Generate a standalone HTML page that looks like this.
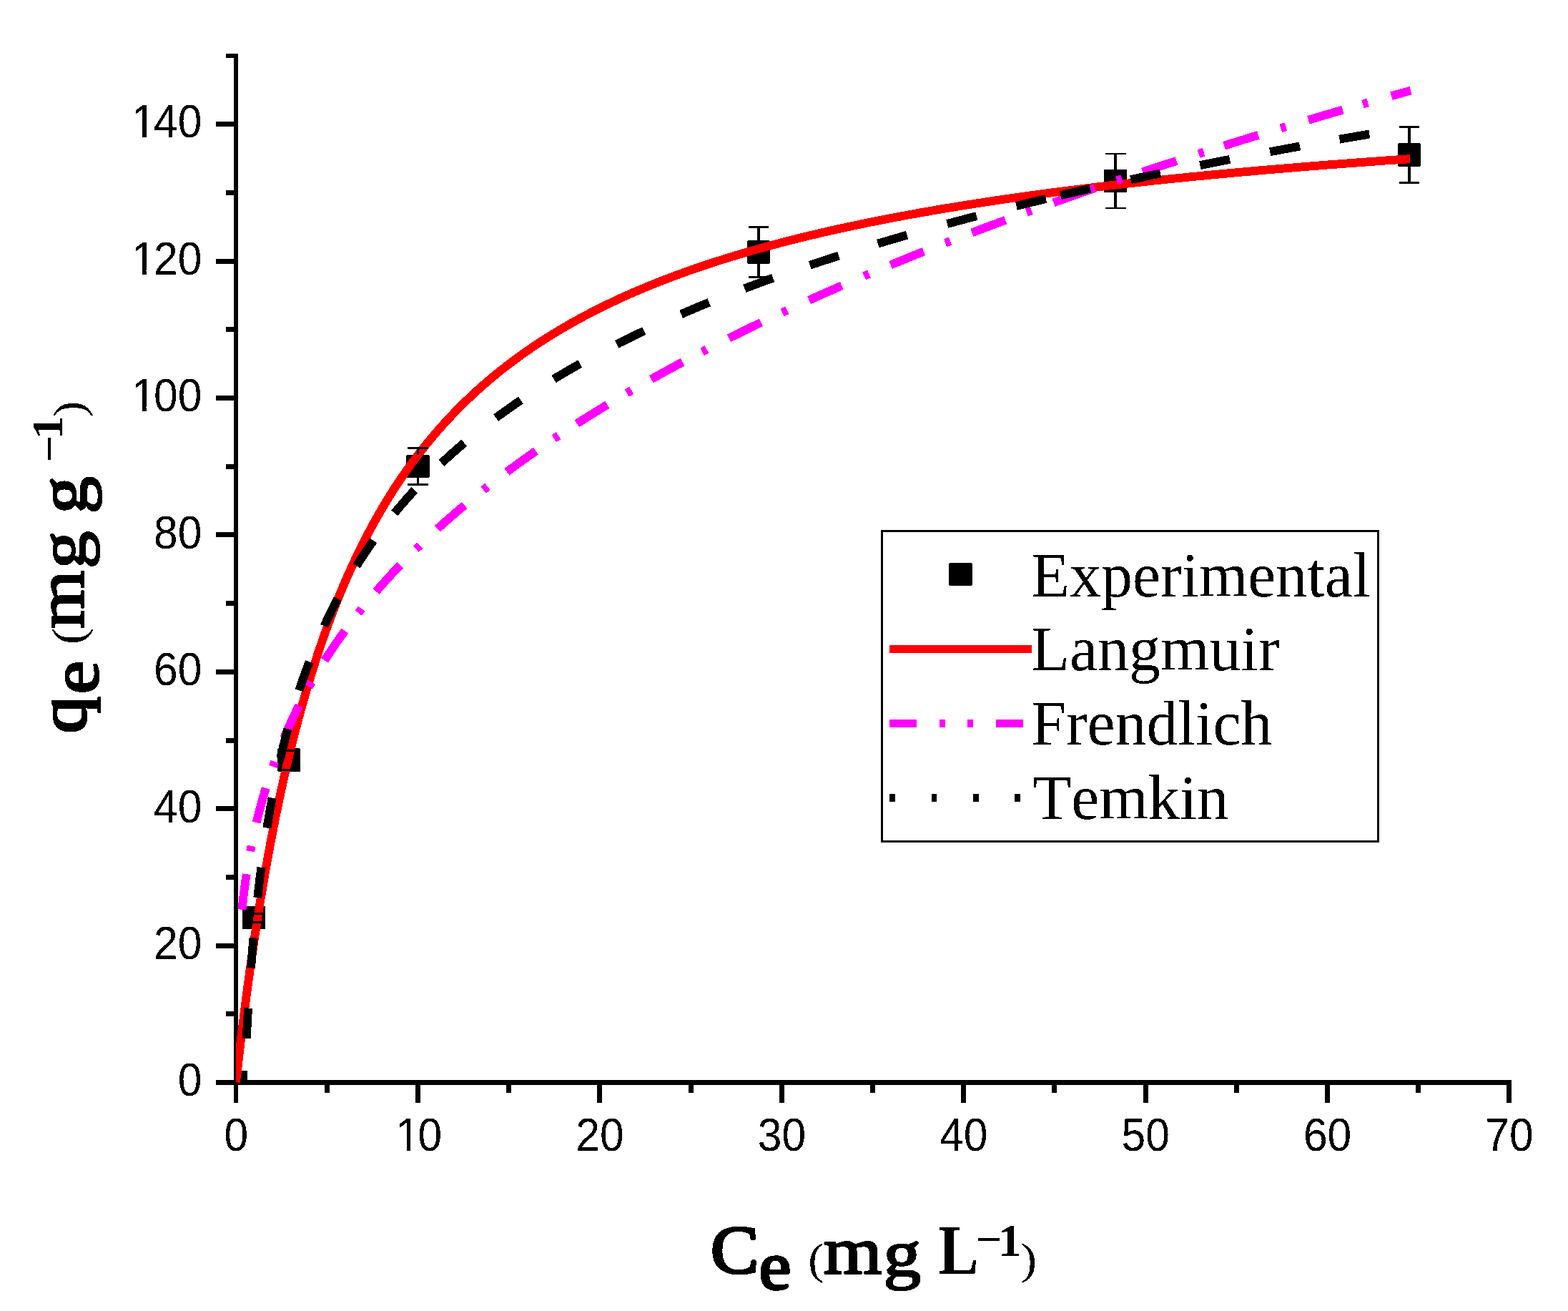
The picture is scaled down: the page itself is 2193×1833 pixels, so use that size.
<!DOCTYPE html>
<html lang="en"><head><meta charset="utf-8"><title>Adsorption isotherm</title>
<style>
html,body{margin:0;padding:0;background:#fff;}
body{width:2193px;height:1833px;}
svg{display:block;}
.tick{font-family:"Liberation Sans",Arial,sans-serif;fill:#000;}
.leg{font-family:"Liberation Serif","Times New Roman",serif;font-size:88px;fill:#000;font-kerning:none;}
.ttl{font-family:"Liberation Serif","Times New Roman",serif;font-weight:bold;fill:#000;}
.par{font-family:"Liberation Serif","Times New Roman",serif;font-weight:normal;fill:#000;}
</style></head><body>
<svg width="2193" height="1833" viewBox="0 0 2193 1833" role="img" aria-label="Adsorption isotherm: qe versus Ce with Langmuir, Frendlich and Temkin fits">
<rect x="0" y="0" width="2193" height="1833" fill="#fff"/>
<defs><filter id="bin" x="-5%" y="-5%" width="110%" height="110%" color-interpolation-filters="sRGB"><feComponentTransfer><feFuncA type="discrete" tableValues="0 1"/></feComponentTransfer></filter></defs>
<defs><clipPath id="plotclip"><rect x="330" y="70" width="1790" height="1444"/></clipPath></defs>
<g id="axes" fill="#000" shape-rendering="crispEdges">
<rect x="327" y="75" width="6" height="1442"/>
<rect x="302" y="1510" width="1812" height="7"/>
<rect x="327" y="1513" width="6" height="29"/>
<rect x="454" y="1513" width="7" height="15"/>
<rect x="581" y="1513" width="7" height="29"/>
<rect x="708" y="1513" width="7" height="15"/>
<rect x="835" y="1513" width="7" height="29"/>
<rect x="963" y="1513" width="7" height="15"/>
<rect x="1090" y="1513" width="7" height="29"/>
<rect x="1217" y="1513" width="7" height="15"/>
<rect x="1344" y="1513" width="7" height="29"/>
<rect x="1471" y="1513" width="7" height="15"/>
<rect x="1599" y="1513" width="7" height="29"/>
<rect x="1726" y="1513" width="7" height="15"/>
<rect x="1853" y="1513" width="7" height="29"/>
<rect x="1980" y="1513" width="7" height="15"/>
<rect x="2107" y="1513" width="7" height="29"/>
<rect x="302" y="1510" width="28" height="7"/>
<rect x="316" y="1414" width="14" height="7"/>
<rect x="302" y="1319" width="28" height="7"/>
<rect x="316" y="1223" width="14" height="7"/>
<rect x="302" y="1127" width="28" height="7"/>
<rect x="316" y="1032" width="14" height="7"/>
<rect x="302" y="936" width="28" height="7"/>
<rect x="316" y="840" width="14" height="7"/>
<rect x="302" y="744" width="28" height="7"/>
<rect x="316" y="649" width="14" height="7"/>
<rect x="302" y="553" width="28" height="7"/>
<rect x="316" y="457" width="14" height="7"/>
<rect x="302" y="362" width="28" height="7"/>
<rect x="316" y="266" width="14" height="7"/>
<rect x="302" y="170" width="28" height="7"/>
<rect x="316" y="75" width="14" height="6"/>
</g>
<g id="data" clip-path="url(#plotclip)" shape-rendering="crispEdges">
<g id="points" fill="#000">
<path d="M313.8,1498.3l1.2,-1.2h30.2l1.2,1.2v30.1l-1.2,1.2h-30.2l-1.2,-1.2z"/>
<path d="M338.7,1268.0l1.2,-1.2h30.2l1.2,1.2v30.1l-1.2,1.2h-30.2l-1.2,-1.2z"/>
<path d="M387.8,1047.6l1.2,-1.2h30.2l1.2,1.2v30.1l-1.2,1.2h-30.2l-1.2,-1.2z"/>
<path d="M568.2,637.0l1.2,-1.2h30.2l1.2,1.2v30.1l-1.2,1.2h-30.2l-1.2,-1.2z"/>
<path d="M1044.7,337.5l1.2,-1.2h30.2l1.2,1.2v30.1l-1.2,1.2h-30.2l-1.2,-1.2z"/>
<path d="M1543.8,237.9l1.2,-1.2h30.2l1.2,1.2v30.1l-1.2,1.2h-30.2l-1.2,-1.2z"/>
<path d="M1954.7,201.6l1.2,-1.2h30.2l1.2,1.2v30.1l-1.2,1.2h-30.2l-1.2,-1.2z"/>
</g>
<path id="langmuir" d="M330.1,1513.3L330.4,1510.3L330.8,1507.3L331.1,1504.4L331.4,1501.4L331.8,1498.4L332.1,1495.4L332.4,1492.5L332.8,1489.5L333.1,1486.5L333.4,1483.5L333.8,1480.5L334.1,1477.6L334.5,1474.6L334.8,1471.6L335.2,1468.6L335.5,1465.7L335.9,1462.7L336.2,1459.7L336.6,1456.7L336.9,1453.8L337.3,1450.8L337.7,1447.8L338.0,1444.8L338.4,1441.9L338.7,1438.9L339.1,1435.9L339.5,1432.9L339.8,1430.0L340.2,1427.0L340.6,1424.0L341.0,1421.0L341.3,1418.1L341.7,1415.1L342.1,1412.1L342.5,1409.2L342.9,1406.2L343.2,1403.2L343.6,1400.2L344.0,1397.3L344.4,1394.3L344.8,1391.3L345.2,1388.4L345.6,1385.4L346.0,1382.4L346.4,1379.4L346.8,1376.5L347.2,1373.5L347.6,1370.5L348.0,1367.6L348.4,1364.6L348.8,1361.6L349.2,1358.7L349.6,1355.7L350.0,1352.7L350.5,1349.8L350.9,1346.8L351.3,1343.8L351.7,1340.9L352.1,1337.9L352.6,1334.9L353.0,1332.0L353.4,1329.0L353.9,1326.0L354.3,1323.1L354.7,1320.1L355.2,1317.1L355.6,1314.2L356.1,1311.2L356.5,1308.3L356.9,1305.3L357.4,1302.3L357.8,1299.4L358.3,1296.4L358.8,1293.4L359.2,1290.5L359.7,1287.5L360.1,1284.6L360.6,1281.6L361.1,1278.6L361.5,1275.7L362.0,1272.7L362.5,1269.8L363.0,1266.8L363.4,1263.8L363.9,1260.9L364.4,1257.9L364.9,1255.0L365.4,1252.0L365.9,1249.1L366.4,1246.1L366.9,1243.1L367.4,1240.2L367.9,1237.2L368.4,1234.3L368.9,1231.3L369.4,1228.4L369.9,1225.4L370.4,1222.5L370.9,1219.5L371.4,1216.6L372.0,1213.6L372.5,1210.7L373.0,1207.7L373.5,1204.8L374.1,1201.8L374.6,1198.9L375.1,1195.9L375.7,1193.0L376.2,1190.0L376.8,1187.1L377.3,1184.1L377.9,1181.2L378.4,1178.3L379.0,1175.3L379.6,1172.4L380.1,1169.4L380.7,1166.5L381.3,1163.5L381.8,1160.6L382.4,1157.7L383.0,1154.7L383.6,1151.8L384.2,1148.8L384.7,1145.9L385.3,1143.0L385.9,1140.0L386.5,1137.1L387.1,1134.2L387.7,1131.2L388.3,1128.3L389.0,1125.4L389.6,1122.4L390.2,1119.5L390.8,1116.6L391.4,1113.6L392.1,1110.7L392.7,1107.8L393.3,1104.8L394.0,1101.9L394.6,1099.0L395.3,1096.1L395.9,1093.1L396.6,1090.2L397.2,1087.3L397.9,1084.4L398.5,1081.4L399.2,1078.5L399.9,1075.6L400.6,1072.7L401.2,1069.8L401.9,1066.8L402.6,1063.9L403.3,1061.0L404.0,1058.1L404.7,1055.2L405.4,1052.3L406.1,1049.4L406.8,1046.5L407.5,1043.5L408.3,1040.6L409.0,1037.7L409.7,1034.8L410.4,1031.9L411.2,1029.0L411.9,1026.1L412.7,1023.2L413.4,1020.3L414.2,1017.4L414.9,1014.5L415.7,1011.6L416.5,1008.7L417.2,1005.8L418.0,1002.9L418.8,1000.0L419.6,997.1L420.4,994.2L421.2,991.4L422.0,988.5L422.8,985.6L423.6,982.7L424.4,979.8L425.2,976.9L426.1,974.1L426.9,971.2L427.7,968.3L428.6,965.4L429.4,962.6L430.3,959.7L431.1,956.8L432.0,953.9L432.9,951.1L433.7,948.2L434.6,945.3L435.5,942.5L436.4,939.6L437.3,936.8L438.2,933.9L439.1,931.0L440.0,928.2L440.9,925.3L441.8,922.5L442.8,919.6L443.7,916.8L444.6,913.9L445.6,911.1L446.5,908.3L447.5,905.4L448.5,902.6L449.4,899.7L450.4,896.9L451.4,894.1L452.4,891.3L453.4,888.4L454.4,885.6L455.4,882.8L456.4,880.0L457.4,877.1L458.4,874.3L459.5,871.5L460.5,868.7L461.6,865.9L462.6,863.1L463.7,860.3L464.8,857.5L465.8,854.7L466.9,851.9L468.0,849.1L469.1,846.3L470.2,843.5L471.3,840.8L472.4,838.0L473.6,835.2L474.7,832.4L475.8,829.7L477.0,826.9L478.1,824.1L479.3,821.4L480.5,818.6L481.6,815.8L482.8,813.1L484.0,810.3L485.2,807.6L486.4,804.9L487.6,802.1L488.9,799.4L490.1,796.7L491.3,793.9L492.6,791.2L493.8,788.5L495.1,785.8L496.4,783.0L497.7,780.3L499.0,777.6L500.3,774.9L501.6,772.2L502.9,769.5L504.2,766.9L505.5,764.2L506.9,761.5L508.2,758.8L509.6,756.1L510.9,753.5L512.3,750.8L513.7,748.2L515.1,745.5L516.5,742.9L517.9,740.2L519.3,737.6L520.8,734.9L522.2,732.3L523.6,729.7L525.1,727.1L526.6,724.5L528.0,721.9L529.5,719.3L531.0,716.7L532.5,714.1L534.0,711.5L535.6,708.9L537.1,706.3L538.6,703.8L540.2,701.2L541.8,698.6L543.3,696.1L544.9,693.5L546.5,691.0L548.1,688.5L549.7,685.9L551.3,683.4L553.0,680.9L554.6,678.4L556.3,675.9L557.9,673.4L559.6,670.9L561.3,668.4L563.0,666.0L564.7,663.5L566.4,661.0L568.1,658.6L569.8,656.1L571.6,653.7L573.3,651.3L575.1,648.8L576.8,646.4L578.6,644.0L580.4,641.6L582.2,639.2L584.0,636.8L585.8,634.4L587.7,632.1L589.5,629.7L591.4,627.4L593.2,625.0L595.1,622.7L597.0,620.3L598.9,618.0L600.8,615.7L602.7,613.4L604.6,611.1L606.6,608.8L608.5,606.5L610.5,604.3L612.4,602.0L614.4,599.7L616.4,597.5L618.4,595.3L620.4,593.0L622.4,590.8L624.4,588.6L626.5,586.4L628.5,584.2L630.6,582.0L632.6,579.9L634.7,577.7L636.8,575.5L638.9,573.4L641.0,571.3L643.1,569.1L645.2,567.0L647.3,564.9L649.5,562.8L651.6,560.7L653.8,558.7L656.0,556.6L658.1,554.5L660.3,552.5L662.5,550.4L664.7,548.4L666.9,546.4L669.2,544.4L671.4,542.4L673.6,540.4L675.9,538.4L678.1,536.5L680.4,534.5L682.7,532.6L685.0,530.6L687.3,528.7L689.6,526.8L691.9,524.9L694.2,523.0L696.5,521.1L698.9,519.2L701.2,517.3L703.6,515.5L705.9,513.6L708.3,511.8L710.7,510.0L713.1,508.2L715.4,506.4L717.8,504.6L720.2,502.8L722.7,501.0L725.1,499.2L727.5,497.5L730.0,495.7L732.4,494.0L734.8,492.3L737.3,490.6L739.8,488.9L742.2,487.2L744.7,485.5L747.2,483.8L749.7,482.1L752.2,480.5L754.7,478.8L757.2,477.2L759.7,475.6L762.3,474.0L764.8,472.4L767.3,470.8L769.9,469.2L772.4,467.6L775.0,466.0L777.5,464.5L780.1,462.9L782.7,461.4L785.2,459.9L787.8,458.4L790.4,456.9L793.0,455.4L795.6,453.9L798.2,452.4L800.8,450.9L803.5,449.5L806.1,448.0L808.7,446.6L811.3,445.1L814.0,443.7L816.6,442.3L819.3,440.9L821.9,439.5L824.6,438.1L827.2,436.7L829.9,435.4L832.6,434.0L835.2,432.6L837.9,431.3L840.6,430.0L843.3,428.6L846.0,427.3L848.7,426.0L851.4,424.7L854.1,423.4L856.8,422.1L859.5,420.9L862.2,419.6L864.9,418.3L867.6,417.1L870.4,415.8L873.1,414.6L875.8,413.4L878.6,412.2L881.3,410.9L884.1,409.7L886.8,408.5L889.6,407.4L892.3,406.2L895.1,405.0L897.8,403.8L900.6,402.7L903.4,401.5L906.1,400.4L908.9,399.3L911.7,398.1L914.5,397.0L917.2,395.9L920.0,394.8L922.8,393.7L925.6,392.6L928.4,391.5L931.2,390.4L934.0,389.4L936.8,388.3L939.6,387.2L942.4,386.2L945.2,385.2L948.0,384.1L950.8,383.1L953.6,382.1L956.5,381.0L959.3,380.0L962.1,379.0L964.9,378.0L967.8,377.0L970.6,376.1L973.4,375.1L976.3,374.1L979.1,373.1L981.9,372.2L984.8,371.2L987.6,370.3L990.5,369.3L993.3,368.4L996.2,367.5L999.0,366.5L1001.9,365.6L1004.7,364.7L1007.6,363.8L1010.4,362.9L1013.3,362.0L1016.1,361.1L1019.0,360.2L1021.9,359.3L1024.7,358.5L1027.6,357.6L1030.5,356.7L1033.3,355.9L1036.2,355.0L1039.1,354.2L1042.0,353.3L1044.8,352.5L1047.7,351.7L1050.6,350.8L1053.5,350.0L1056.4,349.2L1059.2,348.4L1062.1,347.6L1065.0,346.8L1067.9,346.0L1070.8,345.2L1073.7,344.4L1076.6,343.6L1079.5,342.8L1082.4,342.0L1085.3,341.3L1088.2,340.5L1091.1,339.7L1094.0,339.0L1096.9,338.2L1099.8,337.5L1102.7,336.7L1105.6,336.0L1108.5,335.3L1111.4,334.5L1114.3,333.8L1117.2,333.1L1120.1,332.4L1123.0,331.7L1125.9,331.0L1128.8,330.2L1131.7,329.5L1134.7,328.8L1137.6,328.2L1140.5,327.5L1143.4,326.8L1146.3,326.1L1149.2,325.4L1152.2,324.7L1155.1,324.1L1158.0,323.4L1160.9,322.7L1163.9,322.1L1166.8,321.4L1169.7,320.8L1172.6,320.1L1175.6,319.5L1178.5,318.9L1181.4,318.2L1184.3,317.6L1187.3,316.9L1190.2,316.3L1193.1,315.7L1196.1,315.1L1199.0,314.5L1201.9,313.9L1204.9,313.2L1207.8,312.6L1210.7,312.0L1213.7,311.4L1216.6,310.8L1219.5,310.2L1222.5,309.7L1225.4,309.1L1228.4,308.5L1231.3,307.9L1234.2,307.3L1237.2,306.8L1240.1,306.2L1243.1,305.6L1246.0,305.0L1248.9,304.5L1251.9,303.9L1254.8,303.4L1257.8,302.8L1260.7,302.3L1263.7,301.7L1266.6,301.2L1269.6,300.6L1272.5,300.1L1275.5,299.6L1278.4,299.0L1281.4,298.5L1284.3,298.0L1287.3,297.4L1290.2,296.9L1293.2,296.4L1296.1,295.9L1299.1,295.4L1302.0,294.9L1305.0,294.3L1307.9,293.8L1310.9,293.3L1313.8,292.8L1316.8,292.3L1319.7,291.8L1322.7,291.3L1325.7,290.8L1328.6,290.4L1331.6,289.9L1334.5,289.4L1337.5,288.9L1340.4,288.4L1343.4,287.9L1346.4,287.5L1349.3,287.0L1352.3,286.5L1355.2,286.1L1358.2,285.6L1361.2,285.1L1364.1,284.7L1367.1,284.2L1370.0,283.8L1373.0,283.3L1376.0,282.8L1378.9,282.4L1381.9,281.9L1384.8,281.5L1387.8,281.1L1390.8,280.6L1393.7,280.2L1396.7,279.7L1399.7,279.3L1402.6,278.9L1405.6,278.4L1408.6,278.0L1411.5,277.6L1414.5,277.2L1417.5,276.7L1420.4,276.3L1423.4,275.9L1426.4,275.5L1429.3,275.1L1432.3,274.6L1435.3,274.2L1438.2,273.8L1441.2,273.4L1444.2,273.0L1447.1,272.6L1450.1,272.2L1453.1,271.8L1456.0,271.4L1459.0,271.0L1462.0,270.6L1465.0,270.2L1467.9,269.8L1470.9,269.4L1473.9,269.1L1476.8,268.7L1479.8,268.3L1482.8,267.9L1485.8,267.5L1488.7,267.1L1491.7,266.8L1494.7,266.4L1497.6,266.0L1500.6,265.6L1503.6,265.3L1506.6,264.9L1509.5,264.5L1512.5,264.2L1515.5,263.8L1518.5,263.4L1521.4,263.1L1524.4,262.7L1527.4,262.4L1530.4,262.0L1533.3,261.6L1536.3,261.3L1539.3,260.9L1542.3,260.6L1545.2,260.2L1548.2,259.9L1551.2,259.5L1554.2,259.2L1557.1,258.9L1560.1,258.5L1563.1,258.2L1566.1,257.8L1569.1,257.5L1572.0,257.2L1575.0,256.8L1578.0,256.5L1581.0,256.2L1583.9,255.8L1586.9,255.5L1589.9,255.2L1592.9,254.9L1595.9,254.5L1598.8,254.2L1601.8,253.9L1604.8,253.6L1607.8,253.2L1610.8,252.9L1613.7,252.6L1616.7,252.3L1619.7,252.0L1622.7,251.7L1625.7,251.4L1628.6,251.0L1631.6,250.7L1634.6,250.4L1637.6,250.1L1640.6,249.8L1643.5,249.5L1646.5,249.2L1649.5,248.9L1652.5,248.6L1655.5,248.3L1658.4,248.0L1661.4,247.7L1664.4,247.4L1667.4,247.1L1670.4,246.8L1673.4,246.5L1676.3,246.2L1679.3,245.9L1682.3,245.7L1685.3,245.4L1688.3,245.1L1691.3,244.8L1694.2,244.5L1697.2,244.2L1700.2,243.9L1703.2,243.7L1706.2,243.4L1709.2,243.1L1712.1,242.8L1715.1,242.6L1718.1,242.3L1721.1,242.0L1724.1,241.7L1727.1,241.5L1730.0,241.2L1733.0,240.9L1736.0,240.6L1739.0,240.4L1742.0,240.1L1745.0,239.8L1747.9,239.6L1750.9,239.3L1753.9,239.0L1756.9,238.8L1759.9,238.5L1762.9,238.3L1765.9,238.0L1768.8,237.7L1771.8,237.5L1774.8,237.2L1777.8,237.0L1780.8,236.7L1783.8,236.5L1786.8,236.2L1789.7,236.0L1792.7,235.7L1795.7,235.5L1798.7,235.2L1801.7,235.0L1804.7,234.7L1807.7,234.5L1810.6,234.2L1813.6,234.0L1816.6,233.7L1819.6,233.5L1822.6,233.2L1825.6,233.0L1828.6,232.8L1831.5,232.5L1834.5,232.3L1837.5,232.0L1840.5,231.8L1843.5,231.6L1846.5,231.3L1849.5,231.1L1852.5,230.9L1855.4,230.6L1858.4,230.4L1861.4,230.2L1864.4,229.9L1867.4,229.7L1870.4,229.5L1873.4,229.3L1876.4,229.0L1879.3,228.8L1882.3,228.6L1885.3,228.4L1888.3,228.1L1891.3,227.9L1894.3,227.7L1897.3,227.5L1900.3,227.2L1903.3,227.0L1906.2,226.8L1909.2,226.6L1912.2,226.4L1915.2,226.1L1918.2,225.9L1921.2,225.7L1924.2,225.5L1927.2,225.3L1930.1,225.1L1933.1,224.9L1936.1,224.6L1939.1,224.4L1942.1,224.2L1945.1,224.0L1948.1,223.8L1951.1,223.6L1954.1,223.4L1957.1,223.2L1960.0,223.0L1963.0,222.8L1966.0,222.6L1969.0,222.4L1972.0,222.2" fill="none" stroke="#ff0000" stroke-width="11.9" stroke-linejoin="round"/>
<g id="errbars" fill="#000">
<rect x="340.6" y="1275.6" width="28.8" height="2.9"/>
<rect x="340.6" y="1287.6" width="28.8" height="2.9"/>
<rect x="389.7" y="1047.7" width="28.8" height="2.9"/>
<rect x="389.7" y="1074.7" width="28.8" height="2.9"/>
<rect x="582.7" y="626.5" width="3.6" height="9.5"/>
<rect x="582.7" y="668.0" width="3.6" height="9.5"/>
<rect x="570.1" y="625.1" width="28.8" height="2.9"/>
<rect x="570.1" y="676.1" width="28.8" height="2.9"/>
<rect x="1059.2" y="317.5" width="3.6" height="19.0"/>
<rect x="1059.2" y="368.5" width="3.6" height="19.0"/>
<rect x="1046.6" y="316.1" width="28.8" height="2.9"/>
<rect x="1046.6" y="386.1" width="28.8" height="2.9"/>
<rect x="1558.3" y="214.9" width="3.6" height="22.0"/>
<rect x="1558.3" y="268.9" width="3.6" height="22.0"/>
<rect x="1545.7" y="213.5" width="28.8" height="2.9"/>
<rect x="1545.7" y="289.5" width="28.8" height="2.9"/>
<rect x="1969.2" y="177.6" width="3.6" height="23.0"/>
<rect x="1969.2" y="232.6" width="3.6" height="23.0"/>
<rect x="1956.6" y="176.2" width="28.8" height="2.9"/>
<rect x="1956.6" y="254.2" width="28.8" height="2.9"/>
</g>
<path id="freundlich" d="M338.4,1271.8L338.8,1268.0L339.3,1264.2L339.7,1260.4L340.1,1256.5L340.6,1252.7L341.1,1248.9L341.5,1245.1L342.0,1241.3L342.6,1237.5L343.1,1233.7L343.6,1229.8L344.2,1226.0L344.8,1222.2M350.2,1190.2L350.9,1186.5L351.6,1182.8M358.7,1150.1L359.6,1146.4L360.5,1142.7L361.5,1138.9L362.4,1135.2L363.4,1131.5L364.4,1127.8L365.4,1124.0L366.4,1120.3L367.5,1116.6L368.5,1112.9L369.6,1109.2L370.7,1105.6L371.8,1101.9M381.7,1071.9L383.0,1068.4L384.2,1064.9M397.3,1031.7L398.8,1028.2L400.3,1024.6L401.8,1021.1L403.4,1017.6L405.0,1014.1L406.6,1010.6L408.2,1007.1L409.8,1003.6L411.5,1000.2L413.1,996.7L414.8,993.2L416.5,989.8L418.3,986.4M432.1,960.3L433.9,957.0L435.8,953.8M454.1,923.3L456.2,920.1L458.3,916.9L460.4,913.7L462.5,910.4L464.7,907.2L466.8,904.1L469.0,900.9L471.2,897.7L473.4,894.6L475.6,891.4L477.8,888.3L480.1,885.2L482.3,882.0M501.3,857.0L503.6,854.1L505.9,851.2M526.0,827.1L528.5,824.2L531.0,821.3L533.6,818.4L536.1,815.6L538.7,812.7L541.3,809.8L543.8,807.0L546.4,804.2L549.1,801.3L551.7,798.5L554.3,795.7L557.0,792.9L559.6,790.2M581.8,767.7L584.5,765.1L587.2,762.5M612.0,739.3L614.8,736.7L617.7,734.2L620.5,731.6L623.4,729.0L626.3,726.5L629.2,724.0L632.1,721.4L635.0,718.9L637.9,716.4L640.9,713.9L643.8,711.4L646.7,709.0L649.7,706.5M676.1,685.0L679.0,682.7L681.9,680.4M708.9,659.8L712.0,657.5L715.1,655.2L718.2,653.0L721.3,650.7L724.4,648.4L727.5,646.2L730.6,643.9L733.7,641.7L736.9,639.5L740.0,637.2L743.2,635.0L746.3,632.8L749.5,630.6M774.9,613.2L778.0,611.2L781.1,609.1M806.9,592.3L810.2,590.2L813.4,588.2L816.7,586.1L819.9,584.1L823.2,582.0L826.5,580.0L829.7,578.0L833.0,575.9L836.3,573.9L839.6,571.9L842.8,569.9L846.1,567.9L849.4,565.9M876.8,549.7L880.0,547.8L883.2,545.9M910.8,530.3L914.1,528.4L917.5,526.5L920.9,524.7L924.2,522.8L927.6,520.9L931.0,519.1L934.3,517.2L937.7,515.4L941.1,513.6L944.5,511.7L947.9,509.9L951.3,508.1L954.6,506.3M981.9,492.0L985.2,490.3L988.5,488.5M1019.4,472.9L1022.8,471.2L1026.3,469.5L1029.7,467.8L1033.2,466.1L1036.6,464.4L1040.1,462.7L1043.5,461.0L1047.0,459.3L1050.4,457.6L1053.9,455.9L1057.4,454.3L1060.8,452.6L1064.3,450.9M1094.1,436.9L1097.5,435.3L1100.9,433.7M1131.6,419.7L1135.1,418.1L1138.6,416.5L1142.2,414.9L1145.7,413.4L1149.2,411.8L1152.7,410.2L1156.2,408.7L1159.7,407.1L1163.2,405.6L1166.8,404.0L1170.3,402.5L1173.8,400.9L1177.3,399.4M1208.6,386.0L1212.0,384.5L1215.5,383.1M1245.6,370.5L1249.2,369.0L1252.7,367.5L1256.3,366.1L1259.8,364.6L1263.4,363.2L1267.0,361.7L1270.5,360.3L1274.1,358.8L1277.7,357.4L1281.2,356.0L1284.8,354.5L1288.4,353.1L1291.9,351.7M1322.1,339.7L1325.6,338.4L1329.1,337.0M1359.4,325.3L1363.0,324.0L1366.6,322.6L1370.2,321.2L1373.8,319.9L1377.4,318.5L1381.0,317.2L1384.6,315.8L1388.2,314.4L1391.8,313.1L1395.4,311.8L1399.0,310.4L1402.6,309.1L1406.2,307.7M1435.8,296.9L1439.3,295.6L1442.8,294.3M1473.5,283.3L1477.1,282.0L1480.7,280.7L1484.3,279.4L1488.0,278.2L1491.6,276.9L1495.2,275.6L1498.8,274.3L1502.4,273.1L1506.0,271.8L1509.7,270.5L1513.3,269.3L1516.9,268.0L1520.5,266.8L1524.2,265.5L1527.8,264.3L1531.4,263.0M1561.9,252.6L1565.5,251.4L1569.1,250.2M1598.1,240.5L1601.8,239.3L1605.4,238.0L1609.1,236.8L1612.7,235.6L1616.4,234.4L1620.0,233.2L1623.7,232.0L1627.3,230.8L1631.0,229.6L1634.6,228.4L1638.3,227.3L1642.0,226.1L1645.6,224.9M1676.5,215.0L1680.0,213.8L1683.6,212.7M1712.1,203.7L1715.8,202.5L1719.5,201.4L1723.1,200.2L1726.8,199.1L1730.5,198.0L1734.2,196.8L1737.8,195.7L1741.5,194.5L1745.2,193.4L1748.9,192.3L1752.5,191.1L1756.2,190.0L1759.9,188.9M1791.3,179.3L1794.9,178.2L1798.5,177.2M1829.9,167.8L1833.6,166.7L1837.3,165.6L1841.0,164.5L1844.7,163.4L1848.4,162.3L1852.1,161.2L1855.7,160.1L1859.4,159.1L1863.1,158.0L1866.8,156.9L1870.5,155.8L1874.2,154.8L1877.9,153.7M1906.0,145.6L1909.6,144.5L1913.2,143.5M1946.0,134.2L1949.4,133.2L1952.8,132.3L1956.1,131.3L1959.5,130.4L1962.9,129.4L1966.3,128.5L1969.6,127.5L1973.0,126.6" fill="none" stroke="#ff00ff" stroke-width="11.9" stroke-linejoin="round"/>
<path id="temkin" d="M344.6,1452.0L344.8,1448.1L345.0,1444.3L345.2,1440.4L345.5,1436.5L345.7,1432.7L345.9,1428.8L346.1,1425.0L346.4,1421.1L346.6,1417.3L346.8,1413.4L347.1,1409.5M351.0,1353.4L351.3,1349.6L351.6,1345.7L351.9,1341.9L352.2,1338.0L352.6,1334.2L352.9,1330.3L353.2,1326.5L353.5,1322.6L353.9,1318.8L354.2,1314.9L354.6,1311.1M360.2,1255.0L360.7,1251.1L361.1,1247.3L361.6,1243.4L362.0,1239.6L362.5,1235.8L362.9,1231.9L363.4,1228.1L363.9,1224.3L364.4,1220.4L364.9,1216.6L365.4,1212.8M373.4,1157.5L374.0,1153.7L374.6,1149.9L375.3,1146.1L375.9,1142.3L376.6,1138.5L377.2,1134.6L377.9,1130.8L378.6,1127.0L379.3,1123.2L379.9,1119.4L380.7,1115.6M392.2,1060.4L393.0,1056.7L393.9,1052.9L394.8,1049.1L395.7,1045.4L396.6,1041.6L397.6,1037.9L398.5,1034.1L399.5,1030.4L400.4,1026.6L401.4,1022.9L402.4,1019.2M418.4,965.4L419.6,961.7L420.9,958.0L422.1,954.4L423.3,950.7L424.6,947.1L425.9,943.4L427.2,939.8L428.5,936.2L429.9,932.5L431.2,928.9L432.6,925.3M453.4,875.4L455.1,871.9L456.7,868.4L458.3,864.9L460.0,861.4L461.7,857.9L463.4,854.4L465.1,851.0L466.9,847.5L468.6,844.1L470.4,840.7L472.2,837.2M498.7,791.2L500.7,788.0L502.8,784.7L504.9,781.5L507.0,778.2L509.1,775.0L511.3,771.8L513.4,768.6L515.6,765.4L517.8,762.2L520.0,759.1L522.3,755.9M551.8,717.4L554.3,714.4L556.7,711.5L559.2,708.5L561.8,705.6L564.3,702.7L566.8,699.7L569.4,696.8L572.0,694.0L574.5,691.1L577.1,688.2L579.8,685.4M617.5,647.5L620.3,644.9L623.1,642.3L626.0,639.7L628.8,637.1L631.7,634.5L634.6,631.9L637.5,629.4L640.4,626.8L643.3,624.3L646.3,621.8L649.2,619.3M693.7,584.1L696.8,581.8L700.0,579.5L703.1,577.3L706.2,575.0L709.4,572.8L712.5,570.5L715.7,568.3L718.9,566.1L722.0,563.9L725.2,561.7L728.4,559.6M774.6,530.0L777.9,528.0L781.2,526.0L784.5,524.1L787.8,522.1L791.2,520.1L794.5,518.2L797.9,516.3L801.2,514.3L804.6,512.4L807.9,510.5L811.3,508.6M862.6,481.4L866.0,479.6L869.5,477.9L872.9,476.2L876.4,474.5L879.9,472.8L883.3,471.1L886.8,469.4L890.3,467.7L893.8,466.0L897.3,464.4L900.8,462.7M952.6,439.3L956.1,437.8L959.6,436.2L963.2,434.7L966.8,433.2L970.3,431.7L973.9,430.2L977.4,428.7L981.0,427.3L984.6,425.8L988.2,424.3L991.7,422.9M1041.3,403.4L1044.9,402.0L1048.5,400.7L1052.1,399.3L1055.8,398.0L1059.4,396.6L1063.0,395.3L1066.6,394.0L1070.3,392.6L1073.9,391.3L1077.5,390.0L1081.2,388.7M1132.7,370.8L1136.3,369.6L1140.0,368.4L1143.7,367.2L1147.3,365.9L1151.0,364.7L1154.7,363.5L1158.4,362.3L1162.0,361.2L1165.7,360.0L1169.4,358.8L1173.1,357.6M1227.8,340.6L1231.5,339.5L1235.2,338.4L1238.9,337.3L1242.6,336.2L1246.3,335.1L1250.1,334.1L1253.8,333.0L1257.5,331.9L1261.2,330.8L1264.9,329.7L1268.6,328.7M1324.8,313.0L1328.5,312.0L1332.2,311.0L1336.0,310.0L1339.7,309.0L1343.4,308.0L1347.2,307.0L1350.9,306.0L1354.6,305.1L1358.4,304.1L1362.1,303.1L1365.9,302.1M1421.4,288.0L1425.2,287.1L1428.9,286.2L1432.7,285.3L1436.4,284.4L1440.2,283.4L1443.9,282.5L1447.7,281.6L1451.4,280.7L1455.2,279.8L1459.0,278.9L1462.7,278.0M1483.4,273.1L1487.2,272.3L1491.0,271.4L1494.7,270.5L1498.5,269.7L1502.3,268.8L1506.0,267.9L1509.8,267.1L1513.6,266.2L1517.3,265.3L1521.1,264.5L1524.9,263.6M1581.4,251.2L1585.2,250.4L1589.0,249.6L1592.8,248.8L1596.5,247.9L1600.3,247.1L1604.1,246.3L1607.9,245.5L1611.7,244.8L1615.4,244.0L1619.2,243.2L1623.0,242.4M1678.4,231.1L1682.2,230.3L1686.0,229.6L1689.8,228.8L1693.6,228.1L1697.4,227.3L1701.1,226.6L1704.9,225.8L1708.7,225.1L1712.5,224.3L1716.3,223.6L1720.1,222.9M1776.2,212.2L1780.0,211.5L1783.8,210.8L1787.6,210.1L1791.4,209.4L1795.1,208.7L1799.0,208.0L1802.8,207.3L1806.6,206.6L1810.4,205.9L1814.2,205.2L1818.0,204.5M1873.4,194.7L1877.2,194.0L1881.0,193.4L1884.8,192.7L1888.6,192.0L1892.4,191.4L1896.3,190.7L1900.1,190.1L1903.9,189.4L1907.7,188.8L1911.5,188.1L1915.3,187.5" fill="none" stroke="#000" stroke-width="11.9" stroke-linejoin="round"/>
</g>
<defs><clipPath id="one"><rect x="-2" y="-70" width="36.65" height="64.6"/><rect x="17.66" y="-6" width="5.65" height="8"/><rect x="34.65" y="-70" width="120" height="80"/></clipPath></defs>
<g id="xlabels" class="tick" font-size="60.5" filter="url(#bin)">
<text transform="translate(313.38,1609.30) scale(1,1.07)" x="0.00" y="0">0</text>
<text transform="translate(550.95,1609.30) scale(1,1.07)" clip-path="url(#one)" x="2.60 33.65" y="0">10</text>
<text transform="translate(805.35,1609.30) scale(1,1.07)" x="0.00 33.65" y="0">20</text>
<text transform="translate(1059.75,1609.30) scale(1,1.07)" x="0.00 33.65" y="0">30</text>
<text transform="translate(1314.15,1609.30) scale(1,1.07)" x="0.00 33.65" y="0">40</text>
<text transform="translate(1568.55,1609.30) scale(1,1.07)" x="0.00 33.65" y="0">50</text>
<text transform="translate(1822.95,1609.30) scale(1,1.07)" x="0.00 33.65" y="0">60</text>
<text transform="translate(2077.35,1609.30) scale(1,1.07)" x="0.00 33.65" y="0">70</text>
</g>
<g id="ylabels" class="tick" font-size="60.5" filter="url(#bin)">
<text transform="translate(248.65,1532.30) scale(1,1.07)" x="0.00" y="0">0</text>
<text transform="translate(215.01,1340.90) scale(1,1.07)" x="0.00 33.65" y="0">20</text>
<text transform="translate(215.01,1149.50) scale(1,1.07)" x="0.00 33.65" y="0">40</text>
<text transform="translate(215.01,958.10) scale(1,1.07)" x="0.00 33.65" y="0">60</text>
<text transform="translate(215.01,766.70) scale(1,1.07)" x="0.00 33.65" y="0">80</text>
<text transform="translate(181.36,575.30) scale(1,1.07)" clip-path="url(#one)" x="2.60 33.65 67.29" y="0">100</text>
<text transform="translate(181.36,383.90) scale(1,1.07)" clip-path="url(#one)" x="2.60 33.65 67.29" y="0">120</text>
<text transform="translate(181.36,192.50) scale(1,1.07)" clip-path="url(#one)" x="2.60 33.65 67.29" y="0">140</text>
</g>
<g id="legend">
<rect x="1232" y="741" width="697" height="437" fill="#000" shape-rendering="crispEdges"/>
<rect x="1235" y="744" width="691" height="431" fill="#fff" shape-rendering="crispEdges"/>
<path d="M1327,788.5l1.5,-1.5h29.8l1.5,1.5v28.8l-1.5,1.5h-29.8l-1.5,-1.5z" fill="#000" shape-rendering="crispEdges"/>
<rect x="1243.8" y="901.5" width="199.1" height="11.6" fill="#ff0000" shape-rendering="crispEdges"/>
<rect x="1243.8" y="1005.8" width="38.4" height="11.3" fill="#ff00ff" shape-rendering="crispEdges"/>
<rect x="1314" y="1005.8" width="8.0" height="11.3" fill="#ff00ff" shape-rendering="crispEdges"/>
<rect x="1353" y="1005.8" width="8.2" height="11.3" fill="#ff00ff" shape-rendering="crispEdges"/>
<rect x="1392.9" y="1005.8" width="38.4" height="11.3" fill="#ff00ff" shape-rendering="crispEdges"/>
<rect x="1243.8" y="1110" width="8.5" height="11" fill="#000" shape-rendering="crispEdges"/>
<rect x="1302.7" y="1110" width="7.7" height="11" fill="#000" shape-rendering="crispEdges"/>
<rect x="1360.8" y="1110" width="8.1" height="11" fill="#000" shape-rendering="crispEdges"/>
<rect x="1419.3" y="1110" width="8.1" height="11" fill="#000" shape-rendering="crispEdges"/>
<g id="legendtext" filter="url(#bin)">
<text class="leg" x="1442.3" y="833.5">Experimental</text>
<text class="leg" x="1442.3" y="936.7">Langmuir</text>
<text class="leg" x="1442.3" y="1040.6">Frendlich</text>
<text class="leg" x="1444.6" y="1145.3">Temkin</text>
</g>
</g>
<text id="xtitle" class="ttl" filter="url(#bin)"><tspan x="994.00 1061.44" y="1780.44 1801.79" font-size="94.25" font-weight="normal" stroke="#000" stroke-width="3.6" stroke-linejoin="round" textLength="112.05" lengthAdjust="spacingAndGlyphs">Ce</tspan><tspan font-size="60"> </tspan><tspan x="1130.29" y="1780.89" font-size="60.66" font-weight="normal" textLength="22.04" lengthAdjust="spacingAndGlyphs">(</tspan><tspan x="1151.86 1235.53" y="1779.60 1783.56" font-size="92.10" font-weight="normal" stroke="#000" stroke-width="2.6" stroke-linejoin="round" textLength="134.26" lengthAdjust="spacingAndGlyphs">mg</tspan><tspan font-size="60"> </tspan><tspan x="1312.36" y="1781.10" font-size="99.73" font-weight="bold" textLength="56.29" lengthAdjust="spacingAndGlyphs">L</tspan><tspan x="1364.53 1396.39" y="1754.41 1756.30" font-size="62.71" font-weight="bold" textLength="69.09" lengthAdjust="spacingAndGlyphs">−1</tspan><tspan x="1427.39" y="1781.12" font-size="60.99" font-weight="normal" textLength="22.82" lengthAdjust="spacingAndGlyphs">)</tspan></text>
<text id="ytitle" class="ttl" transform="rotate(-90)" filter="url(#bin)"><tspan x="-1025.58 -970.23" y="120.04 137.44" font-size="94.66" font-weight="normal" stroke="#000" stroke-width="3.0" stroke-linejoin="round" textLength="98.48" lengthAdjust="spacingAndGlyphs">qe</tspan><tspan font-size="60"> </tspan><tspan x="-901.13" y="117.01" font-size="62.42" font-weight="normal" textLength="22.95" lengthAdjust="spacingAndGlyphs">(</tspan><tspan x="-878.99 -795.11" y="115.59 119.48" font-size="92.26" font-weight="normal" stroke="#000" stroke-width="2.6" stroke-linejoin="round" textLength="133.93" lengthAdjust="spacingAndGlyphs">mg</tspan><tspan font-size="60"> </tspan><tspan x="-718.27" y="121.25" font-size="96.59" font-weight="normal" stroke="#000" stroke-width="3.0" stroke-linejoin="round" textLength="52.06" lengthAdjust="spacingAndGlyphs">g</tspan><tspan font-size="60"> </tspan><tspan x="-646.21 -614.22" y="89.91 87.00" font-size="62.11" font-weight="bold" textLength="70.57" lengthAdjust="spacingAndGlyphs">−1</tspan><tspan x="-583.40" y="117.08" font-size="62.09" font-weight="normal" textLength="22.69" lengthAdjust="spacingAndGlyphs">)</tspan></text>
</svg></body></html>
